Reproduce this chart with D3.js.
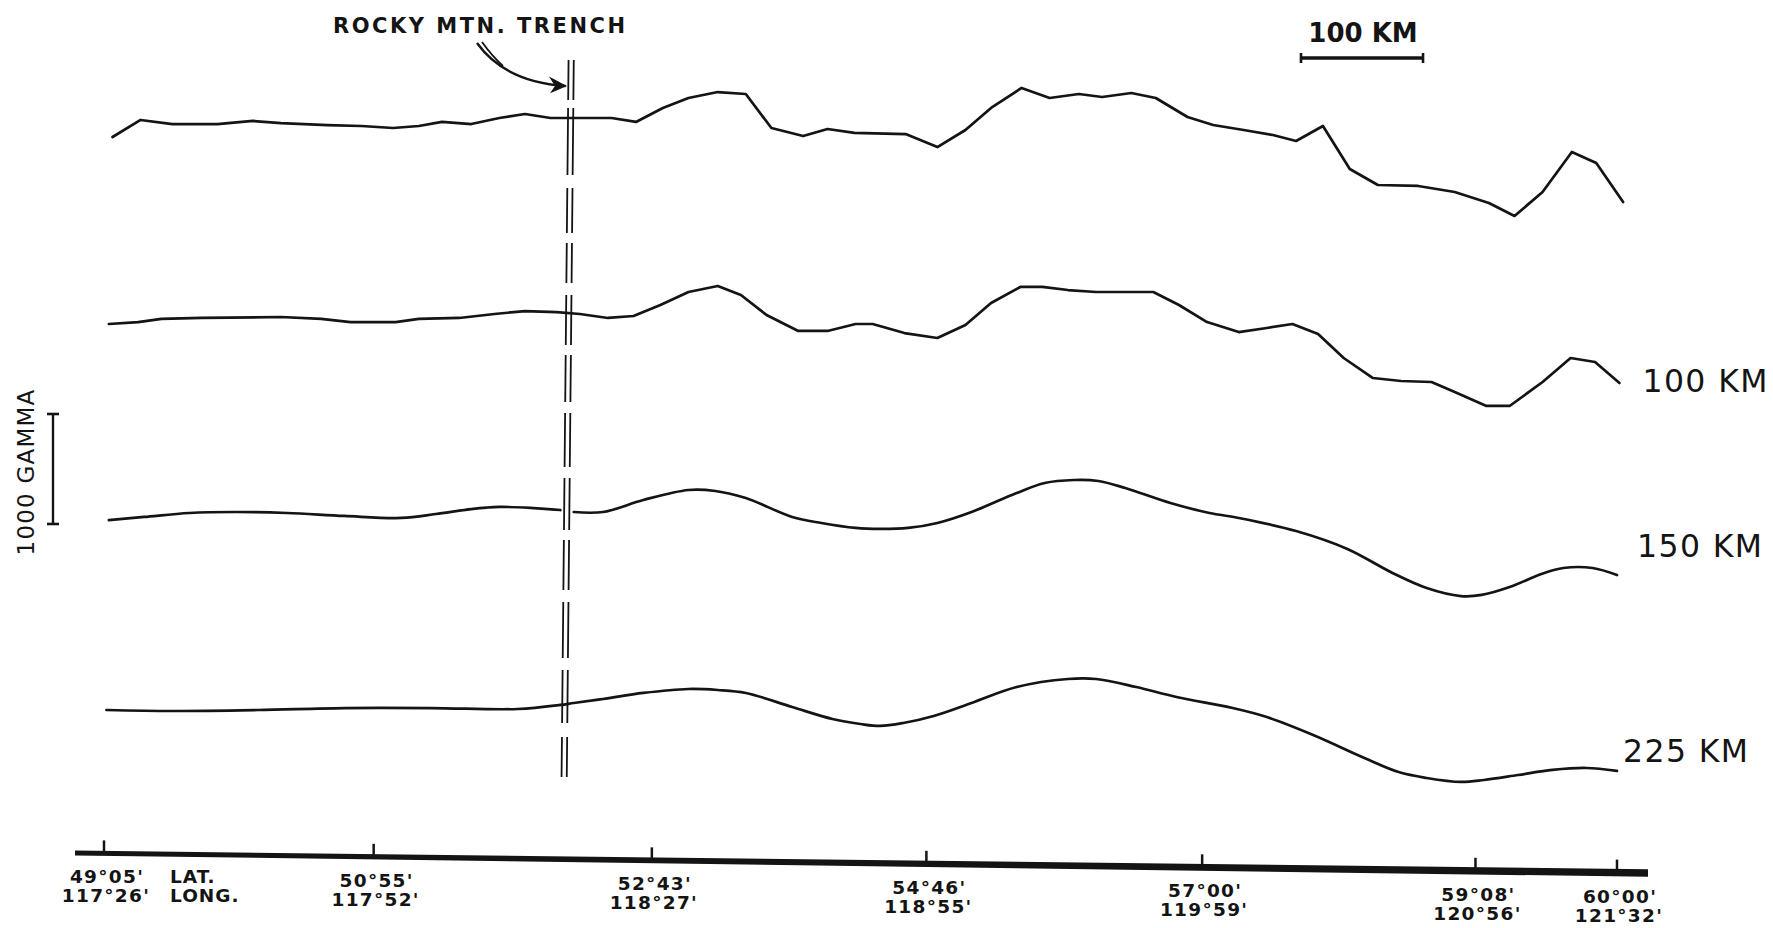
<!DOCTYPE html>
<html>
<head>
<meta charset="utf-8">
<script src="https://cdn.jsdelivr.net/npm/d3@7"></script>
<style>
  body { margin: 0; background: #fff; }
  svg { display: block; }
  text { font-family: "DejaVu Sans", sans-serif; fill: #141414; }
</style>
</head>
<body>
<svg id="chart" width="1773" height="928"></svg>
<script>
// Magnetic anomaly profile along the trench, observed and upward-continued.
// Distance along profile (km) and anomaly (gamma) for each trace.
const observedKm = [7,30,56,93,122,145,183,211,237,258,277,301,324,345,366,416,436,458,479,503,526,547,573,593,615,657,683,706,727,752,775,799,818,842,862,888,909,934,958,977,999,1021,1044,1077,1107,1135,1156,1179,1203,1223,1245];
const observedGamma = [118,273,236,236,264,245,227,218,200,218,255,236,291,327,291,291,255,382,473,527,509,200,127,191,155,145,27,182,382,564,473,509,482,518,473,300,227,182,136,82,218,-173,-318,-327,-382,-482,-600,-382,-18,-118,-473];

const km100Km = [4,28,47,80,145,178,202,239,258,291,320,345,371,390,413,434,456,479,503,522,543,569,593,616,630,656,683,706,727,751,769,790,813,837,860,881,904,930,953,974,995,1016,1040,1063,1088,1107,1133,1152,1179,1202,1222,1242];
const km100Gamma = [118,136,164,173,182,164,136,136,164,173,209,236,227,209,173,191,291,409,464,382,200,55,55,118,118,36,-9,109,309,455,455,427,409,409,409,291,136,45,82,118,27,-191,-373,-400,-409,-500,-627,-627,-409,-191,-227,-418];

const km150Km = [4,33,70,107,150,197,244,272,301,324,352,374,380,385,409,442,479,501,526,564,588,616,636,659,683,711,748,771,795,815,837,874,906,930,977,1019,1056,1084,1112,1129,1152,1178,1196,1220,1240];
const km150Gamma = [36,64,100,109,100,73,55,91,136,155,145,127,null,109,109,218,309,300,236,64,9,-36,-45,-36,9,109,282,373,400,391,327,191,100,55,-64,-227,-445,-582,-655,-645,-573,-455,-400,-400,-464];

const km225Km = [2,56,126,197,268,339,374,385,409,442,479,503,526,564,597,620,636,655,680,711,748,790,813,846,879,925,953,991,1033,1061,1084,1112,1131,1159,1187,1215,1240];
const km225Gamma = [9,0,9,27,27,18,55,73,109,164,200,191,164,36,-73,-118,-136,-109,-45,73,218,291,291,218,127,27,-55,-218,-427,-555,-609,-645,-627,-582,-536,-518,-545];

const profileLabels = ["", "100 KM", "150 KM", "225 KM"];

// Station ticks along the profile
const tickKm = [0,221,449,674,900,1124,1240];
const tickLat = ["49°05'","50°55'","52°43'","54°46'","57°00'","59°08'","60°00'"];
const tickLong = ["117°26'","117°52'","118°27'","118°55'","119°59'","120°56'","121°32'"];

const trenchKm = 380;
const scaleBarKm = 100;
const scaleBarGamma = 1000;

// ---------------------------------------------------------------
const svg = d3.select("#chart");
const ink = "#141414";

const x = d3.scaleLinear().domain([0, 1240]).range([104, 1617]);
const y = d3.scaleLinear().domain([0, 1000]).range([524, 414]);

// vertical stacking of the traces (gamma offsets)
const stackOffset = [3400, 1700, 0, -1700];
const smooth = [false, false, true, true];

const series = [
  [observedKm, observedGamma],
  [km100Km, km100Gamma],
  [km150Km, km150Gamma],
  [km225Km, km225Gamma]
].map(([k, g], i) => ({
  i,
  label: profileLabels[i],
  pts: k.map((d, j) => ({ km: d, g: g[j] }))
}));

series.forEach(s => {
  const off = stackOffset[s.i];
  const line = d3.line()
    .defined(d => d.g !== null)
    .x(d => x(d.km))
    .y(d => y(d.g + off))
    .curve(smooth[s.i] ? d3.curveCatmullRom.alpha(0.5) : d3.curveLinear);
  svg.append("path")
    .attr("d", line(s.pts))
    .attr("fill", "none")
    .attr("stroke", ink)
    .attr("stroke-width", 2.7)
    .attr("stroke-linejoin", "round")
    .attr("stroke-linecap", "round");
});

// depth labels at the right end of each continued trace
const labelShift = [null, [23, 9], [20, -18], [6, -9]];
series.forEach(s => {
  if (!s.label) return;
  const last = s.pts[s.pts.length - 1];
  const [dx, dy] = labelShift[s.i];
  svg.append("text")
    .attr("x", x(last.km) + dx)
    .attr("y", y(last.g + stackOffset[s.i]) + dy)
    .attr("font-size", 31.5)
    .attr("letter-spacing", 1.4)
    .text(s.label);
});

// Rocky Mountain Trench: doubled dashed line
const tx = x(trenchKm);
const trenchTop = 60, trenchBottom = 777;
[-2.6, 2.6].forEach(o => {
  svg.append("line")
    .attr("x1", tx + o + 3.5).attr("y1", trenchTop)
    .attr("x2", tx + o - 3.5).attr("y2", trenchBottom)
    .attr("stroke", ink)
    .attr("stroke-width", 1.8)
    .attr("stroke-dasharray", "40 8 67 13 45 10 40 12 50 10 47 11 54 11 52 10 50 12 56 12 53 14 40");
});

svg.append("text")
  .attr("x", 333).attr("y", 33)
  .attr("font-size", 21)
  .attr("font-weight", "bold")
  .attr("textLength", 292)
  .attr("lengthAdjust", "spacing")
  .text("ROCKY MTN. TRENCH");

// pointer arrow to the trench
const tip = [tx - 2, 86];
const arrow = d3.path();
arrow.moveTo(477, 43);
arrow.quadraticCurveTo(505, 82, tip[0], tip[1]);
svg.append("path").attr("d", arrow.toString())
  .attr("fill", "none").attr("stroke", ink).attr("stroke-width", 2.4);
const tail = d3.path();
tail.moveTo(482, 42);
tail.quadraticCurveTo(492, 56, 503, 66);
svg.append("path").attr("d", tail.toString())
  .attr("fill", "none").attr("stroke", ink).attr("stroke-width", 1.8);
svg.append("path")
  .attr("d", `M${tip[0]},${tip[1]} L${tip[0] - 15},${tip[1] - 8} L${tip[0] - 10},${tip[1]} L${tip[0] - 14},${tip[1] + 6} Z`)
  .attr("fill", ink).attr("stroke", ink).attr("stroke-width", 1.2);

// horizontal scale bar
const sbX0 = 1301, sbY = 58;
const sbX1 = sbX0 + (x(scaleBarKm) - x(0));
svg.append("line").attr("x1", sbX0).attr("x2", sbX1).attr("y1", sbY).attr("y2", sbY)
  .attr("stroke", ink).attr("stroke-width", 3.6);
[sbX0, sbX1].forEach(px => svg.append("line")
  .attr("x1", px).attr("x2", px).attr("y1", sbY - 5).attr("y2", sbY + 5)
  .attr("stroke", ink).attr("stroke-width", 2.6));
svg.append("text")
  .attr("x", (sbX0 + sbX1) / 2 + 1).attr("y", 42)
  .attr("text-anchor", "middle")
  .attr("font-size", 26)
  .attr("font-weight", "bold")
  .text("100 KM");

// vertical scale bar
const gx = 53;
svg.append("line").attr("x1", gx).attr("x2", gx)
  .attr("y1", y(0)).attr("y2", y(scaleBarGamma))
  .attr("stroke", ink).attr("stroke-width", 2.4);
[y(0), y(scaleBarGamma)].forEach(py => svg.append("line")
  .attr("x1", gx - 6).attr("x2", gx + 6).attr("y1", py).attr("y2", py)
  .attr("stroke", ink).attr("stroke-width", 2.6));
svg.append("text")
  .attr("transform", "translate(33.5,472) rotate(-90)")
  .attr("text-anchor", "middle")
  .attr("font-size", 23)
  .attr("letter-spacing", 1.2)
  .text("1000 GAMMA");

// location axis (drawn slightly inclined, thickening to the right)
const axX0 = 75, axX1 = 1648;
const axisY = d3.scaleLinear().domain([axX0, axX1]).range([853, 873]);
svg.append("path")
  .attr("d", `M${axX0},${axisY(axX0) - 2.4} L${axX1},${axisY(axX1) - 3.8} L${axX1},${axisY(axX1) + 3.8} L${axX0},${axisY(axX0) + 2.4} Z`)
  .attr("fill", ink);

const tickFont = { size: 18.5, spacing: 1.3 };
tickKm.forEach((k, i) => {
  const px = x(k), base = axisY(px);
  svg.append("line")
    .attr("x1", px).attr("x2", px).attr("y1", base - 1).attr("y2", base - 13)
    .attr("stroke", ink).attr("stroke-width", 2.5);
  svg.append("text")
    .attr("x", px + 3).attr("y", base + 30)
    .attr("text-anchor", "middle")
    .attr("font-size", tickFont.size).attr("font-weight", "bold")
    .attr("letter-spacing", tickFont.spacing)
    .text(tickLat[i]);
  svg.append("text")
    .attr("x", px + 2).attr("y", base + 49)
    .attr("text-anchor", "middle")
    .attr("font-size", tickFont.size).attr("font-weight", "bold")
    .attr("letter-spacing", tickFont.spacing)
    .text(tickLong[i]);
});

const b0 = axisY(x(tickKm[0]));
svg.append("text").attr("x", 170).attr("y", b0 + 30)
  .attr("font-size", tickFont.size).attr("font-weight", "bold")
  .attr("letter-spacing", 1).text("LAT.");
svg.append("text").attr("x", 170).attr("y", b0 + 49)
  .attr("font-size", tickFont.size).attr("font-weight", "bold")
  .attr("letter-spacing", 1).text("LONG.");
</script>
</body>
</html>
